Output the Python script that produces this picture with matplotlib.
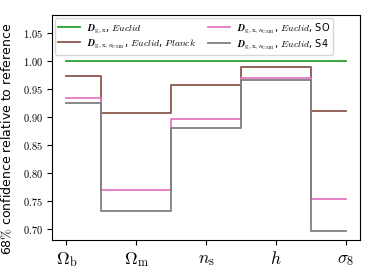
import numpy as np
import matplotlib
matplotlib.use("Agg")
import matplotlib.pyplot as plt
from matplotlib.ticker import FuncFormatter

plt.rcParams['mathtext.fontset'] = 'cm'

params = [r'$\Omega_{\rm b}$', r'$\Omega_{\rm m}$', r'$n_{\rm s}$', r'$h$', r'$\sigma_8$']
euclid = [1.0, 1.0, 1.0, 1.0, 1.0]
planck = [0.973, 0.907, 0.957, 0.988, 0.911]
so = [0.934, 0.770, 0.896, 0.970, 0.754]
s4 = [0.925, 0.731, 0.880, 0.965, 0.696]

labels = [
    r'$\boldsymbol{D}_{\rm g,x}$, $\it{Euclid}$',
    r'$\boldsymbol{D}_{\rm g,x,\kappa_{CMB}}$, $\it{Euclid}$, $\it{Planck}$',
    r'$\boldsymbol{D}_{\rm g,x,\kappa_{CMB}}$, $\it{Euclid}$, SO',
    r'$\boldsymbol{D}_{\rm g,x,\kappa_{CMB}}$, $\it{Euclid}$, S4',
]
colors = ['tab:green', 'tab:brown', 'tab:pink', 'tab:gray']

fig, ax = plt.subplots(figsize=(3.74, 2.8), dpi=100)
x = np.arange(len(params))
for vals, lab, c in zip([euclid, planck, so, s4], labels, colors):
    ax.step(x, vals, where='mid', color=c, lw=1.3, label=lab)

ax.set_xticks(x)
ax.set_xticklabels(params, fontsize=12.5)
ax.set_yticks([0.70, 0.75, 0.80, 0.85, 0.90, 0.95, 1.00, 1.05])
ax.yaxis.set_major_formatter(FuncFormatter(lambda v, p: f'${v:.2f}$'))
ax.tick_params(axis='y', labelsize=7.5)
ax.set_ylim(0.68, 1.082)
ax.set_ylabel(r'68$\%$ confidence relative to reference', fontsize=9)
ax.yaxis.set_label_coords(-0.125, 0.45)
ax.legend(ncol=2, fontsize=7, loc='upper left', handlelength=2.2,
          columnspacing=1.2, borderaxespad=0.3, labelspacing=0.12,
          borderpad=0.3)

fig.subplots_adjust(left=0.14, right=0.963, top=0.947, bottom=0.143)
fig.savefig('out.png', dpi=100)
